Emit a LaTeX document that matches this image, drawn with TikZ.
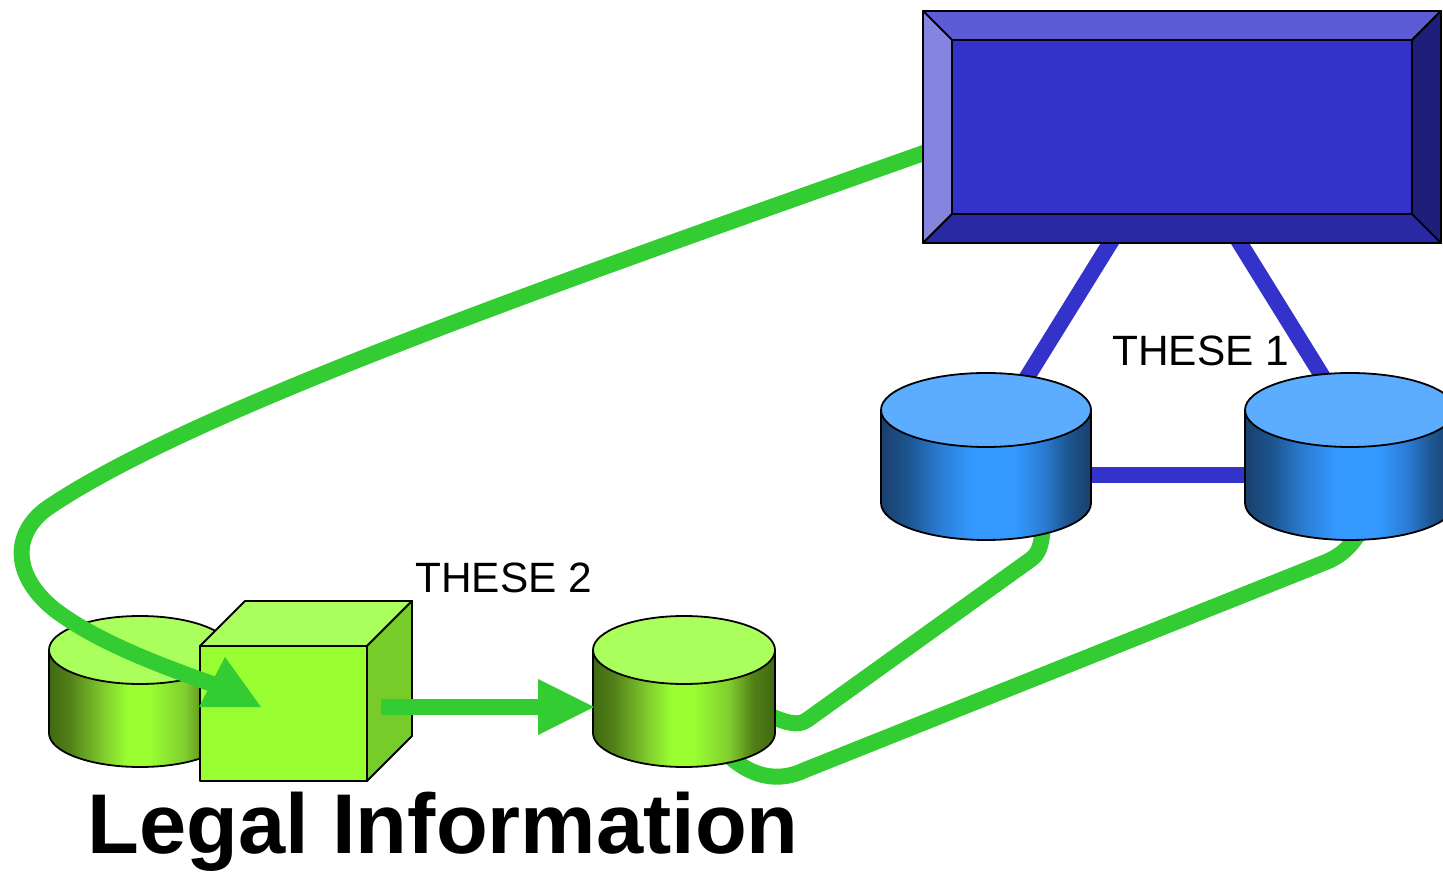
\documentclass[tikz,border=0pt]{standalone}
\usepackage{fontspec}
\setmainfont{Liberation Sans}
\definecolor{linkgreen}{HTML}{33CC33}
\definecolor{linkblue}{HTML}{3333CC}
\definecolor{limetop}{HTML}{AAFF5C}
\definecolor{limeface}{HTML}{99FF33}
\definecolor{limeside}{HTML}{77CC29}
\definecolor{limedark}{HTML}{3F6A12}
\definecolor{limeedge}{HTML}{527F18}
\definecolor{limemid}{HTML}{80CC2E}
\definecolor{skytop}{HTML}{5CADFF}
\definecolor{skyface}{HTML}{3399FF}
\definecolor{skydark}{HTML}{1A3F6B}
\definecolor{skyedge}{HTML}{1C5590}
\definecolor{skymid}{HTML}{2A7AD0}
\pgfdeclarehorizontalshading{limedisc}{100bp}{color(0bp)=(limedark); color(25bp)=(limedark); color(30.5bp)=(limeedge); color(40bp)=(limemid); color(46.5bp)=(limeface); color(52.5bp)=(limeface); color(62.5bp)=(limemid); color(69bp)=(limeedge); color(75bp)=(limedark); color(100bp)=(limedark)}
\pgfdeclarehorizontalshading{skydisc}{100bp}{color(0bp)=(skydark); color(25bp)=(skydark); color(31.5bp)=(skyedge); color(38.5bp)=(skymid); color(46.5bp)=(skyface); color(57bp)=(skyface); color(64bp)=(skymid); color(69.5bp)=(skyedge); color(75bp)=(skydark); color(100bp)=(skydark)}
\begin{document}
\begin{tikzpicture}[x=0.5pt,y=0.5pt,
	link/.style={line width=8pt},
	facet/.style={draw=black,line width=0.9pt,line join=round},
	caption/.style={font=\fontsize{21.2}{24}\selectfont,anchor=base west,inner sep=0pt}]
	\useasboundingbox (0,0) rectangle (1443,872);
	\coordinate (vaultL) at (1016,477);
	\coordinate (vaultR) at (1334,477);
	\coordinate (vaultLside) at (1080,396.5);
	\coordinate (vaultRside) at (1255,396.5);
	\coordinate (panelA) at (1117,640);
	\coordinate (panelB) at (1233,640);
	\coordinate (panelW) at (935,723);
	\coordinate (cubeE) at (381,165);
	\coordinate (discE) at (540,165);
	\coordinate (cubeIn) at (218,186);
	\coordinate (discR) at (765,158);
	\coordinate (discB) at (720,125);
	\coordinate (vaultLb) at (1043,350);
	\coordinate (vaultRb) at (1365,350);
	\draw[link,linkblue] (panelA) -- (vaultL);
	\draw[link,linkblue] (panelB) -- (vaultR);
	\draw[link,linkblue] (vaultLside) -- (vaultRside);
	\draw[link,linkgreen] (discR) .. controls (785,150) and (797,145) .. (807,152) -- (1030,312) .. controls (1038,318) and (1042,324) .. (vaultLb);
	\draw[link,linkgreen] (discB) .. controls (750,92) and (780,90) .. (805,102) -- (1326,310) .. controls (1345,318) and (1355,330) .. (vaultRb);
	\shadedraw[facet,shading=limedisc] (49,222) -- (49,139) arc[start angle=180,end angle=360,x radius=91,y radius=34] -- (231,222) -- cycle;
	\draw[facet,fill=limetop] (140,222) ellipse[x radius=91,y radius=34];
	\shadedraw[facet,shading=limedisc] (593,222) -- (593,139) arc[start angle=180,end angle=360,x radius=91,y radius=34] -- (775,222) -- cycle;
	\draw[facet,fill=limetop] (684,222) ellipse[x radius=91,y radius=34];
	\shadedraw[facet,shading=skydisc] (881,462) -- (881,369) arc[start angle=180,end angle=360,x radius=105,y radius=37] -- (1091,462) -- cycle;
	\draw[facet,fill=skytop] (986,462) ellipse[x radius=105,y radius=37];
	\shadedraw[facet,shading=skydisc] (1245,462) -- (1245,369) arc[start angle=180,end angle=360,x radius=105,y radius=37] -- (1455,462) -- cycle;
	\draw[facet,fill=skytop] (1350,462) ellipse[x radius=105,y radius=37];
	\draw[facet,fill=limeface] (200,91) rectangle (367,226);
	\draw[facet,fill=limetop] (200,226) -- (245,271) -- (412,271) -- (367,226) -- cycle;
	\draw[facet,fill=limeside] (367,226) -- (412,271) -- (412,136) -- (367,91) -- cycle;
	\draw[link,linkgreen] (panelW) .. controls (560,590) and (200,465) .. (52,367) .. controls (12,342) and (10,298) .. (55,262) .. controls (95,232) and (150,210) .. (cubeIn);
	\draw[facet,fill=linkblue] (952,658) rectangle (1412,832);
	\draw[facet,fill=linkblue!80!white] (923,861) -- (1441,861) -- (1412,832) -- (952,832) -- cycle;
	\draw[facet,fill=linkblue!60!white] (923,861) -- (952,832) -- (952,658) -- (923,629) -- cycle;
	\draw[facet,fill=linkblue!80!black] (923,629) -- (952,658) -- (1412,658) -- (1441,629) -- cycle;
	\draw[facet,fill=linkblue!60!black] (1441,861) -- (1412,832) -- (1412,658) -- (1441,629) -- cycle;
	\fill[linkgreen] (225,215) -- (261,165) -- (199,165) -- cycle;
	\draw[link,linkgreen] (cubeE) -- (discE);
	\fill[linkgreen] (538,193) -- (594,165) -- (538,137) -- cycle;
	\node[caption] (theseone) at (1112,506) {THESE 1};
	\node[caption] (thesetwo) at (415,279) {THESE 2};
	\node[anchor=base west,inner sep=0pt,font=\fontsize{42.4}{48}\selectfont\bfseries] (legalinfo) at (87,19) {Legal Information};
\end{tikzpicture}
\end{document}
